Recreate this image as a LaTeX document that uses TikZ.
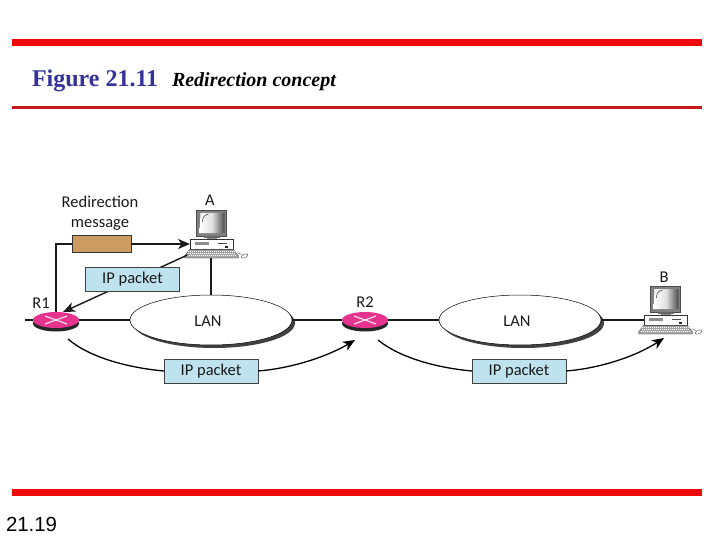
\documentclass[tikz,border=0pt]{standalone}
\usepackage{fontspec}
\setmainfont{Liberation Serif}
\newfontfamily\labelfont{Carlito}
\newfontfamily\pagefont{Liberation Sans}
\usetikzlibrary{shapes.geometric,arrows.meta,calc}
\definecolor{barred}{HTML}{EE0A0A}
\definecolor{rulered}{HTML}{C8161D}
\definecolor{titleblue}{HTML}{333399}
\definecolor{pktblue}{HTML}{BFE3EE}
\definecolor{msgbrown}{HTML}{CD9A5F}
\definecolor{routerpink}{HTML}{E6338E}
\definecolor{inkdark}{HTML}{1A1A1A}
\tikzset{
  every node/.style={inner sep=0pt,outer sep=0pt},
  lbl/.style={font=\labelfont\fontsize{16.5}{18.5}\selectfont,text=inkdark,align=center},
  packet/.style={draw=black!75,line width=0.7pt,fill=pktblue,minimum width=94pt,minimum height=24pt,font=\labelfont\fontsize{16.5}{18.5}\selectfont,text=inkdark},
  lan/.style={ellipse,draw=black,line width=0.5pt,fill=white,minimum width=162pt,minimum height=50pt},
  lanshadow/.style={ellipse,fill=black!75,minimum width=162pt,minimum height=50pt},
  router/.style={ellipse,fill=routerpink,minimum width=46pt,minimum height=16pt},
  routerbase/.style={ellipse,fill=black!85,minimum width=46pt,minimum height=16pt},
  wire/.style={line width=1.4pt,draw=inkdark},
  arc/.style={line width=1.3pt,draw=black},
  tip/.style={-{Stealth[length=12pt,width=10pt,inset=3.5pt]}},
  computer/.pic={
    % monitor
    \filldraw[draw=black!70,fill=black!50,line width=0.4pt] (-15,-34) -- (15,-34) -- (15,-8) -- (-15,-8) -- cycle;
    \shade[left color=white,right color=black!70,middle color=black!12] (-11,-31) -- (13,-31) -- (13,-11) -- (-12,-11) -- cycle;
    \draw[black!75,line width=0.6pt] (-9,-22) .. controls (-9,-27) and (-7,-29) .. (-3,-30);
    % neck
    \fill[black!60] (-8,-8) rectangle (8,-6);
    \fill[black!45] (-5,-6) rectangle (5,-5);
    % base
    \node[draw=black!80,fill=white,line width=0.4pt,minimum width=43pt,minimum height=10pt] (-base) at (0,0) {};
    \fill[black!45] (-17,-2) rectangle (-3,1);
    \fill[black!70] (6,-1) rectangle (15,-0.3);
    \fill[black!85] (13,2) rectangle (16,4);
    % keyboard
    \filldraw[draw=black!75,fill=black!35,line width=0.3pt] (-22,5.5) -- (22,5.5) -- (27,12) -- (27,14) -- (-27,14) -- (-27,12) -- cycle;
    \foreach \r in {7,9,11}{\draw[white,line width=0.5pt,dash pattern=on 1pt off 1pt] (-21-\r/3,\r) -- (21+\r/3,\r);}
    \coordinate (-kb) at (-24,11);
    % mouse
    \draw[black!70,line width=0.4pt,fill=white,rotate around={25:(33,12)}] (33,12) ellipse (3.5 and 1.8);
    \draw[black!70,line width=0.4pt] (30,10.5) .. controls (28,9) and (27,9) .. (26,9);
  }
}
\begin{document}
\begin{tikzpicture}[x=1pt,y=-1pt]
\useasboundingbox (0,0) rectangle (720,540);
\fill[white] (0,0) rectangle (720,540);
% slide frame
\fill[barred] (12,39) rectangle (702,46);
\fill[rulered] (12,106.5) rectangle (702,109);
\fill[barred] (12,489) rectangle (702,496);
\node[anchor=base west,text=titleblue,font=\bfseries\fontsize{24}{26}\selectfont] (title) at (32,87) {Figure 21.11};
\node[anchor=base west,text=black,font=\bfseries\itshape\fontsize{20}{22}\selectfont] (subtitle) at (172,87) {Redirection concept};
\node[anchor=base west,text=black,font=\pagefont\fontsize{20.4}{23}\selectfont] (page) at (6,531) {21.19};
% LANs
\node[lanshadow] (lanAs) at (214,323) {};
\node[lanshadow] (lanBs) at (523,323) {};
\node[lan] (lanA) at (211,320) {};
\node[lan] (lanB) at (520,320) {};
\node[lbl] (lanAt) at (208,321) {LAN};
\node[lbl] (lanBt) at (517,321) {LAN};
% routers
\node[routerbase] (r1s) at (56,323.5) {};
\node[routerbase] (r2s) at (365,323.5) {};
\node[router] (R1) at (56,320) {};
\node[router] (R2) at (365,320) {};
\foreach \n in {R1,R2}{
  \draw[white!85!routerpink,line width=1.2pt] ($(\n)+(-11,-4)$) -- ($(\n)+(11,4)$);
  \draw[white!85!routerpink,line width=1.2pt] ($(\n)+(11,-4)$) -- ($(\n)+(-11,4)$);
}
\node[lbl] (R1t) at (41,303) {R1};
\node[lbl] (R2t) at (365,302) {R2};
% computers
\pic (A) at (211.5,244) {computer};
\pic (B) at (665.5,320) {computer};
\node[lbl] (At) at (210,200) {A};
\node[lbl] (Bt) at (664,277) {B};
% free ends and curve ends
\coordinate (stub) at (25,320);
\coordinate (lanAtop) at (211,295);
\coordinate (aout) at (211,258);
\coordinate (c1) at (68,339);
\coordinate (c2) at (355,340);
\coordinate (c3) at (378,340);
\coordinate (c4) at (664,338);
\coordinate (r1tip) at (63,312);
% wires
\draw[wire] (stub) -- (R1.west);
\draw[wire] (R1.east) -- (lanA.west);
\draw[wire] (lanA.east) -- (R2.west);
\draw[wire] (R2.east) -- (lanB.west);
\draw[wire] (lanB.east) -- (B-base.west);
\draw[wire] (aout) -- (lanAtop);
% redirection
\node[draw=black!80,line width=0.7pt,fill=msgbrown,minimum width=59pt,minimum height=17pt] (msg) at (101.5,244) {};
\node[lbl] (msgt) at (100,213) {Redirection\\[1.5pt]message};
\draw[wire] (R1.north) |- (msg.west);
\draw[wire,tip] (msg.east) -- (A-base.west);
% packets
\node[packet] (p1) at (132.5,279.5) {};
\draw[wire,tip] (A-kb) -- (r1tip);
\node[packet] at (p1) {IP packet};
\node[packet] (p2) at (211,371) {IP packet};
\node[packet] (p3) at (519,371) {IP packet};
\draw[arc] (c1) .. controls (90,358) and (130,368) .. (p2.west);
\draw[arc,tip] (p2.east) .. controls (295,368) and (330,355) .. (c2);
\draw[arc] (c3) .. controls (400,358) and (438,368) .. (p3.west);
\draw[arc,tip] (p3.east) .. controls (603,368) and (638,355) .. (c4);
\end{tikzpicture}
\end{document}
